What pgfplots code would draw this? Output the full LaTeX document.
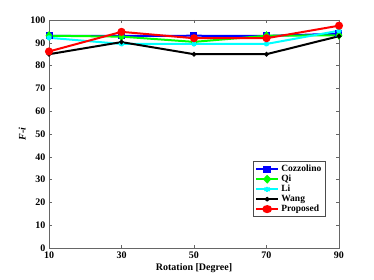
\documentclass[border=0pt]{standalone}
\usepackage{pgfplots}
\pgfplotsset{compat=1.18}
\usepackage{fontspec}
\setmainfont{Liberation Serif}
\definecolor{mcyan}{rgb}{0,1,1}
\definecolor{mgreen}{rgb}{0,1,0}
\definecolor{mblue}{rgb}{0,0,1}
\definecolor{mred}{rgb}{1,0,0}
\begin{document}
\begin{tikzpicture}
\path[use as bounding box] (0,0) rectangle (374pt,280pt);
\begin{axis}[
  at={(49pt,32pt)}, anchor=south west,
  scale only axis, width=290pt, height=228pt,
  xmin=10, xmax=90, ymin=0, ymax=100,
  xtick={10,30,50,70,90}, ytick={0,10,...,100},
  tick align=inside, tick pos=both,
  major tick length=3pt,
  axis line style={draw=black!60, line width=0.6pt},
  every tick/.style={draw=black!60},
  tick label style={font=\fontsize{10}{11}\selectfont\bfseries},
  /pgf/number format/assume math mode=true,
  xlabel={\bfseries Rotation [Degree]},
  ylabel={\bfseries\itshape F-i},
  label style={font=\fontsize{10}{11}\selectfont},
  xlabel style={yshift=2pt},
  ylabel style={yshift=-2pt},
  legend style={at={(0.952,0.38)}, anchor=north east, font=\fontsize{9.5}{10.5}\selectfont\bfseries, draw=black!70, row sep=-2pt, inner sep=1.5pt},
  legend image post style={xscale=1.3},
  legend cell align=left,
  every axis plot/.append style={line width=2pt},
]
\addplot[mblue, mark=square*, mark size=2.5pt] coordinates {(10,93) (30,93) (50,93.1) (70,93) (90,94)};
\addlegendentry{Cozzolino}
\addplot[mgreen, mark=diamond*, mark size=3pt] coordinates {(10,93.1) (30,92.7) (50,90.4) (70,93.1) (90,93.3)};
\addlegendentry{Qi}
\addplot[mcyan, mark=asterisk, mark size=2.5pt] coordinates {(10,92.2) (30,89.5) (50,89.5) (70,89.5) (90,95.3)};
\addlegendentry{Li}
\addplot[black, mark=*, mark size=1.2pt] coordinates {(10,85) (30,90.3) (50,85) (70,85) (90,92.9)};
\addlegendentry{Wang}
\addplot[mred, mark=*, mark size=3pt] coordinates {(10,86.2) (30,94.8) (50,92) (70,92) (90,97.5)};
\addlegendentry{Proposed}
\end{axis}
\end{tikzpicture}
\end{document}
